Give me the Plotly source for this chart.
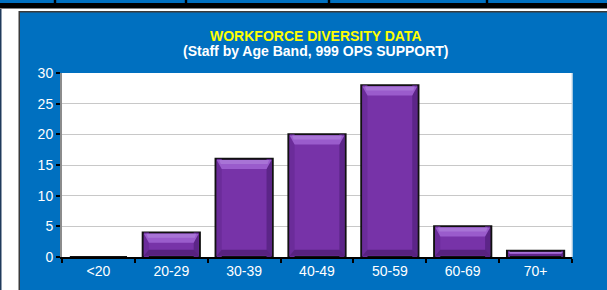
import plotly.graph_objects as go

categories = ["<20", "20-29", "30-39", "40-49", "50-59", "60-69", "70+"]
staff_counts = [0, 4, 16, 20, 28, 5, 1]
y_tick_values = [0, 5, 10, 15, 20, 25, 30]
title_line1 = "WORKFORCE DIVERSITY DATA"
title_line2 = "(Staff by Age Band, 999 OPS SUPPORT)"

W, H = 607, 290
L, R, T, B = 62, 35, 73, 33
PW, PH = W - L - R, H - T - B
Y_MAX = 30
BARGAP = 0.215


def px_x(x):
    return (x - L) / PW


def px_y(y):
    return (H - B - y) / PH


BLUE = "#0070C0"
FONT = "Liberation Sans, Arial, sans-serif"
BAR_BODY = "#7733A8"

fig = go.Figure()
fig.add_trace(go.Bar(
    x=categories,
    y=staff_counts,
    marker=dict(color=BAR_BODY, line=dict(color="#111111", width=2)),
    hoverinfo="x+y",
))

shapes = []
# top strip
shapes.append(dict(type="rect", xref="paper", yref="paper", x0=px_x(0), x1=px_x(W),
                   y0=px_y(0), y1=px_y(3), fillcolor=BLUE, line_width=0, layer="below"))
shapes.append(dict(type="rect", xref="paper", yref="paper", x0=px_x(0), x1=px_x(W),
                   y0=px_y(3), y1=px_y(8.5), fillcolor="#000000", line_width=0, layer="below"))
for dx in (55, 186, 329, 487):
    shapes.append(dict(type="rect", xref="paper", yref="paper", x0=px_x(dx - 1.2), x1=px_x(dx + 1.2),
                       y0=px_y(0), y1=px_y(3), fillcolor="#000000", line_width=0, layer="below"))
# left dark line
shapes.append(dict(type="rect", xref="paper", yref="paper", x0=px_x(0), x1=px_x(1.5),
                   y0=px_y(9), y1=px_y(H), fillcolor="#1F3A5C", line_width=0, layer="below"))
# panel border + panel
shapes.append(dict(type="rect", xref="paper", yref="paper", x0=px_x(18.5), x1=px_x(W + 2),
                   y0=px_y(11), y1=px_y(H + 2), fillcolor="#3A3A3A", line_width=0, layer="below"))
shapes.append(dict(type="rect", xref="paper", yref="paper", x0=px_x(20), x1=px_x(W + 2),
                   y0=px_y(12.5), y1=px_y(H + 2), fillcolor=BLUE, line_width=0, layer="below"))
# plot area
shapes.append(dict(type="rect", xref="paper", yref="paper", x0=0, x1=1, y0=0, y1=1,
                   fillcolor="#FFFFFF", line_width=0, layer="below"))
shapes.append(dict(type="line", xref="paper", yref="paper", x0=1, x1=1, y0=0, y1=1,
                   line=dict(color="#D8E4EE", width=1.5), layer="below"))

# bevel decoration for each bar (anchored on the bar's category and value)
cat_px = PW / len(categories)
hw = (1 - BARGAP) * cat_px / 2 - 1.2
for i, v in enumerate(staff_counts):
    if v <= 0:
        continue
    h = v * PH / Y_MAX - 1.2
    dt = min(9.0, h * 0.4)
    db = min(6.0, h * 0.3)
    ds = min(5.0, h * 0.35)
    # left and right side strips
    shapes.append(dict(type="rect", xref="x", yref="y", xsizemode="pixel", xanchor=i,
                       x0=-hw, x1=-hw + ds, y0=0, y1=v, fillcolor="#6B2C9A",
                       line_width=0, layer="above"))
    shapes.append(dict(type="rect", xref="x", yref="y", xsizemode="pixel", xanchor=i,
                       x0=hw - ds, x1=hw, y0=0, y1=v, fillcolor="#5C2588",
                       line_width=0, layer="above"))
    # bottom bevel
    shapes.append(dict(type="path", xref="x", yref="y", xsizemode="pixel", ysizemode="pixel",
                       xanchor=i, yanchor=0,
                       path="M %.2f,%.2f L %.2f,%.2f L %.2f,%.2f L %.2f,%.2f Z" % (
                           -hw, 1.2, hw, 1.2, hw - ds, 1.2 + db, -hw + ds, 1.2 + db),
                       fillcolor="#58227F", line_width=0, layer="above"))
    # top bevel (light)
    shapes.append(dict(type="path", xref="x", yref="y", xsizemode="pixel", ysizemode="pixel",
                       xanchor=i, yanchor=v,
                       path="M %.2f,%.2f L %.2f,%.2f L %.2f,%.2f L %.2f,%.2f Z" % (
                           -hw, -1.2, hw, -1.2, hw - ds, -1.2 - dt, -hw + ds, -1.2 - dt),
                       fillcolor="#9A5CCC", line_width=0, layer="above"))
    shapes.append(dict(type="path", xref="x", yref="y", xsizemode="pixel", ysizemode="pixel",
                       xanchor=i, yanchor=v,
                       path="M %.2f,%.2f L %.2f,%.2f L %.2f,%.2f L %.2f,%.2f Z" % (
                           -hw + ds * 0.5, -1.2, hw - ds * 0.5, -1.2,
                           hw - ds * 0.8, -1.2 - dt * 0.45, -hw + ds * 0.8, -1.2 - dt * 0.45),
                       fillcolor="#A874D6", line_width=0, layer="above"))

fig.update_layout(
    width=W, height=H,
    margin=dict(l=L, r=R, t=T, b=B, pad=0),
    paper_bgcolor="#FFFFFF",
    plot_bgcolor="rgba(0,0,0,0)",
    showlegend=False,
    bargap=BARGAP,
    shapes=shapes,
    font=dict(family=FONT, size=14, color="#FFFFFF"),
    annotations=[
        dict(text="<b>%s</b>" % title_line1, xref="paper", yref="paper", x=px_x(315.5), y=px_y(35.5),
             xanchor="center", yanchor="middle", showarrow=False,
             font=dict(family=FONT, size=14, color="#FFFF00")),
        dict(text="<b>%s</b>" % title_line2, xref="paper", yref="paper", x=px_x(315.5), y=px_y(50.5),
             xanchor="center", yanchor="middle", showarrow=False,
             font=dict(family=FONT, size=14, color="#FFFFFF")),
    ],
    xaxis=dict(
        type="category", showline=True, linecolor="#000000", linewidth=2,
        ticks="outside", tickson="boundaries", ticklen=4, tickcolor="#000000", tickwidth=1.5,
        showgrid=False, tickfont=dict(size=14, color="#FFFFFF"), fixedrange=True,
    ),
    yaxis=dict(
        range=[0, Y_MAX], tickvals=y_tick_values, showline=True, linecolor="#8C8C8C", linewidth=2,
        ticks="outside", ticklen=4, tickcolor="#000000", tickwidth=1.5,
        showgrid=True, gridcolor="#C8C8C8", gridwidth=1, zeroline=False,
        tickfont=dict(size=14, color="#FFFFFF"), fixedrange=True,
    ),
)

fig.write_html(
    "out.html",
    config={"displayModeBar": False},
    post_script="document.body.style.margin='0';document.body.style.overflow='hidden';",
)
